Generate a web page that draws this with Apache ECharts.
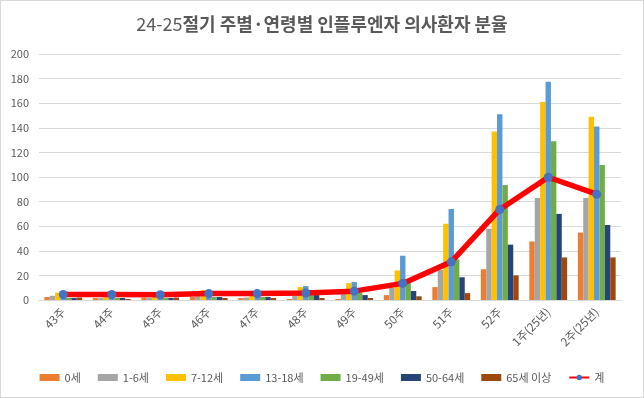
<!DOCTYPE html>
<html>
<head>
<meta charset="utf-8">
<script src="https://cdn.jsdelivr.net/npm/echarts@6/dist/echarts.min.js"></script>
<style>
html, body { margin: 0; padding: 0; background: #fff; }
#main { width: 644px; height: 398px; box-sizing: border-box; border: 1px solid #d9d9d9; }
</style>
</head>
<body>
<div id="main"></div>
<script>
var weeks = ['43주', '44주', '45주', '46주', '47주', '48주', '49주', '50주', '51주', '52주', '1주(25년)', '2주(25년)'];
var age0 = [2.4, 1.6, 2, 2.4, 1.6, 0.8, 0.8, 4, 10.5, 25, 47.6, 54.8];
var age1_6 = [3.4, 1.6, 1.6, 3, 2, 3.5, 4.9, 10, 24.5, 58, 83, 83];
var age7_12 = [6, 6.2, 6, 8, 4.5, 10.5, 13.7, 24, 62, 137, 161, 149];
var age13_18 = [6.5, 5.6, 5.5, 7, 7, 11.3, 14.6, 36, 74, 151, 177.4, 141];
var age19_49 = [1.6, 1.6, 1.6, 2.4, 2.4, 4, 5.7, 17, 33, 93.5, 129, 109.7];
var age50_64 = [1.6, 1.6, 1.6, 2.4, 2.4, 4, 4, 7.3, 18.5, 45, 70, 61];
var age65 = [2, 0.8, 2, 1.6, 1.6, 1.6, 1.6, 3, 5.6, 20, 34.6, 34.6];
var total = [4.5, 4.5, 4.3, 5.2, 5.2, 5.7, 7.2, 13.5, 31, 73.6, 99.8, 86];

var myChart = echarts.init(document.getElementById('main'));

function barSeries(name, data, color) {
    return {
        name: name,
        type: 'bar',
        data: data,
        barGap: '0%',
        barCategoryGap: '22%',
        itemStyle: { color: color },
        animation: false
    };
}

myChart.setOption({
    backgroundColor: '#fff',
    textStyle: { fontFamily: '"Noto Sans CJK KR", "Noto Sans", sans-serif' },
    title: {
        left: 'center',
        top: 9,
        text: '{a|24-25}{b|절기 주별·연령별 인플루엔자 의사환자 분율}',
        textStyle: {
            rich: {
                a: { fontSize: 18, color: '#595959', fontFamily: '"Noto Sans CJK KR"', fontWeight: 'normal' },
                b: { fontSize: 18, color: '#595959', fontFamily: '"Noto Sans CJK KR"', fontWeight: 'bold' }
            }
        }
    },
    legend: {
        bottom: 9,
        left: 'center',
        itemWidth: 20,
        itemHeight: 7,
        itemGap: 17,
        textStyle: { fontSize: 11, color: '#595959' },
        data: [
            { name: '0세', icon: 'rect' },
            { name: '1-6세', icon: 'rect' },
            { name: '7-12세', icon: 'rect' },
            { name: '13-18세', icon: 'rect' },
            { name: '19-49세', icon: 'rect' },
            { name: '50-64세', icon: 'rect' },
            { name: '65세 이상', icon: 'rect' },
            { name: '계' }
        ]
    },
    grid: {
        left: 38,
        right: 22,
        top: 53,
        bottom: 97
    },
    xAxis: {
        type: 'category',
        data: weeks,
        axisLine: { lineStyle: { color: '#d9d9d9' } },
        axisTick: { show: false },
        axisLabel: { rotate: 45, fontSize: 11.5, color: '#595959', interval: 0, margin: 10 }
    },
    yAxis: {
        type: 'value',
        min: 0,
        max: 200,
        interval: 20,
        axisLine: { show: false },
        axisTick: { show: false },
        axisLabel: { fontSize: 11, color: '#595959', margin: 10 },
        splitLine: { lineStyle: { color: '#d9d9d9' } }
    },
    series: [
        barSeries('0세', age0, '#ED7D31'),
        barSeries('1-6세', age1_6, '#A5A5A5'),
        barSeries('7-12세', age7_12, '#FFC000'),
        barSeries('13-18세', age13_18, '#5B9BD5'),
        barSeries('19-49세', age19_49, '#70AD47'),
        barSeries('50-64세', age50_64, '#264478'),
        barSeries('65세 이상', age65, '#9E480E'),
        {
            name: '계',
            type: 'line',
            data: total,
            smooth: false,
            symbol: 'circle',
            symbolSize: 9,
            z: 5,
            lineStyle: { color: '#FF0000', width: 5.5 },
            itemStyle: { color: '#4472C4', borderWidth: 0 },
            animation: false
        }
    ]
});
</script>
</body>
</html>
